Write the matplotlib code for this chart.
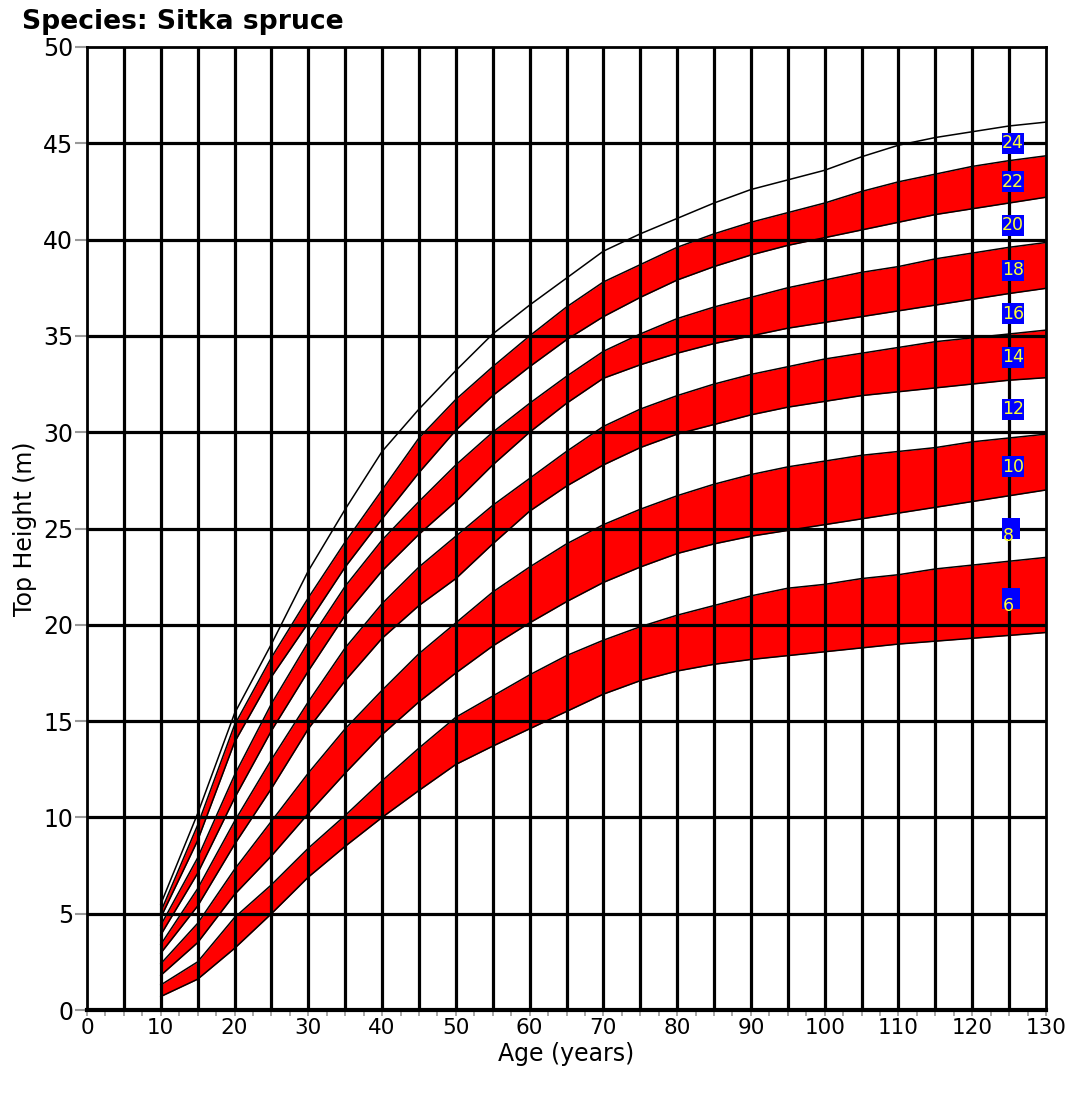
import numpy as np
import matplotlib
matplotlib.use("Agg")
import matplotlib.pyplot as plt
from matplotlib.patches import Rectangle

# ---- data ----
ages = [10, 15, 20, 25, 30, 35, 40, 45, 50, 55, 60, 65, 70, 75, 80, 85, 90, 95, 100, 105, 110, 115, 120, 125, 130]

# top-height boundary curves (bottom -> top)
h00 = [0.7, 1.6, 3.2, 5.0, 6.9, 8.5, 10.0, 11.4, 12.75, 13.7, 14.6, 15.5, 16.4, 17.1, 17.6, 17.95, 18.2, 18.4, 18.6, 18.8, 19.0, 19.15, 19.3, 19.45, 19.6]
h01 = [1.3, 2.5, 4.8, 6.5, 8.4, 10.1, 11.9, 13.6, 15.2, 16.3, 17.4, 18.4, 19.2, 19.9, 20.5, 21.0, 21.5, 21.9, 22.1, 22.4, 22.6, 22.9, 23.1, 23.3, 23.5]
h02 = [1.8, 3.5, 6.0, 8.0, 10.2, 12.3, 14.3, 16.0, 17.5, 18.9, 20.1, 21.2, 22.2, 23.0, 23.7, 24.2, 24.6, 24.9, 25.2, 25.5, 25.8, 26.1, 26.4, 26.7, 27.0]
h03 = [2.4, 4.5, 7.3, 9.8, 12.3, 14.6, 16.6, 18.5, 20.1, 21.7, 23.0, 24.2, 25.2, 26.0, 26.7, 27.3, 27.8, 28.2, 28.5, 28.8, 29.0, 29.2, 29.5, 29.7, 29.9]
h04 = [2.95, 5.4, 8.6, 11.5, 14.6, 17.1, 19.3, 21.0, 22.4, 24.2, 25.9, 27.2, 28.3, 29.2, 29.9, 30.4, 30.9, 31.3, 31.6, 31.9, 32.1, 32.3, 32.5, 32.7, 32.83]
h05 = [3.4, 6.3, 9.8, 13.0, 16.0, 18.8, 21.1, 23.0, 24.6, 26.2, 27.6, 29.0, 30.3, 31.2, 31.9, 32.5, 33.0, 33.4, 33.8, 34.1, 34.4, 34.7, 34.9, 35.1, 35.3]
h06 = [3.9, 7.1, 11.0, 14.5, 17.6, 20.5, 22.8, 24.7, 26.4, 28.3, 30.0, 31.5, 32.8, 33.5, 34.1, 34.6, 35.0, 35.4, 35.7, 36.0, 36.3, 36.6, 36.9, 37.2, 37.47]
h07 = [4.4, 7.9, 12.2, 15.9, 19.1, 22.0, 24.4, 26.4, 28.3, 30.0, 31.5, 32.9, 34.2, 35.1, 35.9, 36.5, 37.0, 37.5, 37.9, 38.3, 38.6, 39.0, 39.3, 39.6, 39.85]
h08 = [4.8, 8.8, 13.9, 17.3, 20.1, 23.0, 25.5, 27.9, 30.1, 31.9, 33.4, 34.8, 36.0, 37.0, 37.9, 38.6, 39.2, 39.7, 40.1, 40.5, 40.9, 41.3, 41.6, 41.9, 42.2]
h09 = [5.1, 9.6, 14.8, 18.3, 21.4, 24.3, 27.0, 29.7, 31.7, 33.4, 35.0, 36.5, 37.8, 38.7, 39.6, 40.3, 40.9, 41.4, 41.9, 42.5, 43.0, 43.4, 43.8, 44.1, 44.35]
h10 = [5.5, 10.2, 15.4, 19.0, 22.8, 26.0, 29.0, 31.2, 33.2, 35.1, 36.6, 38.0, 39.4, 40.3, 41.1, 41.9, 42.6, 43.1, 43.6, 44.3, 44.9, 45.3, 45.6, 45.9, 46.1]

yield_classes = [6, 8, 10, 12, 14, 16, 18, 20, 22, 24]
label_age = 125.0

x_ticks = [0, 10, 20, 30, 40, 50, 60, 70, 80, 90, 100, 110, 120, 130]
y_ticks = [0, 5, 10, 15, 20, 25, 30, 35, 40, 45, 50]

title = "Species: Sitka spruce"
xlabel = "Age (years)"
ylabel = "Top Height (m)"

# ---- figure ----
W, H = 1071, 1111
fig = plt.figure(figsize=(W / 100, H / 100), dpi=100)
L, R, T, B = 87, 1046, 47, 1010
ax = fig.add_axes([L / W, (H - B) / H, (R - L) / W, (B - T) / H])
ax.set_xlim(0, 130)
ax.set_ylim(0, 50)

curves = [h00, h01, h02, h03, h04, h05, h06, h07, h08, h09, h10]
for i in range(0, 10, 2):
    ax.fill_between(ages, curves[i], curves[i + 1], color="#ff0000", lw=0, zorder=1)
for c in curves:
    ax.plot(ages, c, color="black", lw=1.1, zorder=2)

# grid
for gx in np.arange(5, 130, 5):
    ax.axvline(gx, color="black", lw=2.3, zorder=3)
for gy in np.arange(5, 50, 5):
    ax.axhline(gy, color="black", lw=2.3, zorder=3)

# yield class labels
px_x = 130 / (R - L)     # data units per pixel
px_y = 50 / (B - T)
box_left = label_age - 7 * px_x
box_h = 21 * px_y
for k, yc in enumerate(yield_classes):
    lo = np.interp(label_age, ages, curves[k])
    hi = np.interp(label_age, ages, curves[k + 1])
    mid = (lo + hi) / 2
    bw = (22 if yc >= 10 else 18) * px_x
    ax.add_patch(Rectangle((box_left, mid - box_h / 2), bw, box_h,
                           fc="#0000ff", ec="none", zorder=5))
    if yc >= 10:
        ax.text(box_left + bw / 2, mid, str(yc), ha="center", va="center", color="#ffff33",
                fontsize=12.5, zorder=6)
    else:
        ax.annotate(str(yc), xy=(box_left, mid), xytext=(0.3, -5.2),
                    textcoords="offset points", ha="left", va="center",
                    color="#ffff33", fontsize=12.5, zorder=6)

for s in ax.spines.values():
    s.set_color("black")
    s.set_linewidth(2)
    s.set_zorder(4)
ax.spines["bottom"].set_linewidth(3)

ax.set_xticks(x_ticks)
ax.set_xticks(np.arange(0, 130.1, 2.5), minor=True)
ax.set_yticks(y_ticks)
ax.tick_params(axis="x", which="both", length=4, width=1.2, color="#999999", labelsize=15.5, pad=2)
ax.tick_params(axis="y", which="major", length=9, width=1.5, color="#999999", labelsize=17, pad=1)

ax.set_xlabel(xlabel, fontsize=17, labelpad=3)
ax.set_ylabel(ylabel, fontsize=17, labelpad=4)
fig.text(22 / W, 1 - 22 / H, title, fontsize=19.2, fontweight="bold", ha="left", va="center")

fig.savefig("out.png", dpi=100)
